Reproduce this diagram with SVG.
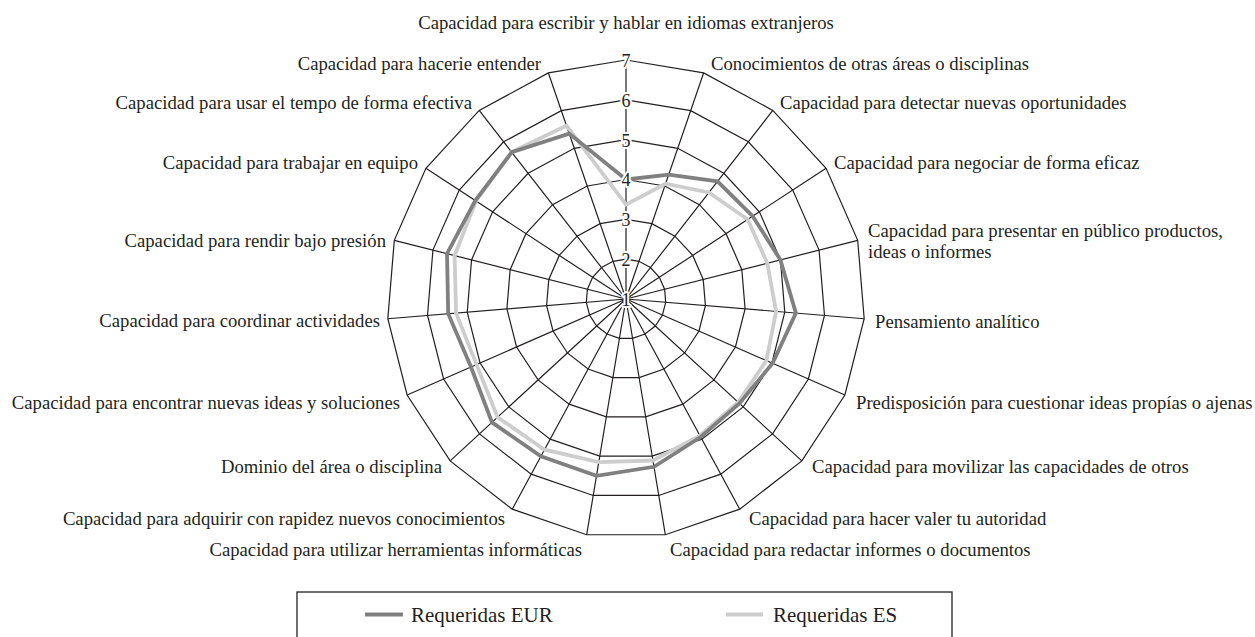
<svg xmlns="http://www.w3.org/2000/svg" width="1255" height="637" viewBox="0 0 1255 637">
<style>
.grid{fill:none;stroke:#231f20;stroke-width:1.2;stroke-linejoin:miter}
.lbl{font-family:"Liberation Serif","Times New Roman",serif;font-size:18.7px;fill:#231f20}
.end{text-anchor:end}
.num{font-family:"Liberation Serif","Times New Roman",serif;font-size:18px;fill:#231f20;text-anchor:middle;stroke:#fff;stroke-width:4;paint-order:stroke;stroke-linejoin:round}
.eur{fill:none;stroke:#808080;stroke-width:3.8;stroke-linejoin:miter}
.es{fill:none;stroke:#cdcdcd;stroke-width:3.8;stroke-linejoin:miter}
.leg{font-family:"Liberation Serif","Times New Roman",serif;font-size:21px;fill:#231f20}
</style>
<rect width="1255" height="637" fill="#fff"/>
<g id="grid" transform="translate(626,299)">
<polygon class="grid" points="0,-39.83 12.93,-37.67 24.46,-31.43 33.34,-21.78 38.61,-9.78 39.69,3.29 36.47,16 29.3,26.98 18.96,35.03 6.56,39.29 -6.56,39.29 -18.96,35.03 -29.3,26.98 -36.47,16 -39.69,3.29 -38.61,-9.78 -33.34,-21.78 -24.46,-31.43 -12.93,-37.67"/>
<polygon class="grid" points="0,-79.67 25.87,-75.35 48.93,-62.87 66.7,-43.58 77.23,-19.56 79.4,6.58 72.96,32 58.61,53.96 37.92,70.07 13.11,78.58 -13.11,78.58 -37.92,70.07 -58.61,53.96 -72.96,32 -79.4,6.58 -77.23,-19.56 -66.7,-43.58 -48.93,-62.87 -25.87,-75.35"/>
<polygon class="grid" points="0,-119.5 38.8,-113.03 73.4,-94.3 100.04,-65.36 115.84,-29.34 119.09,9.87 109.43,48 87.92,80.94 56.88,105.1 19.67,117.87 -19.67,117.87 -56.88,105.1 -87.92,80.94 -109.43,48 -119.09,9.87 -115.84,-29.34 -100.04,-65.36 -73.4,-94.3 -38.8,-113.03"/>
<polygon class="grid" points="0,-159.33 51.73,-150.7 97.86,-125.73 133.39,-87.15 154.45,-39.11 158.78,13.16 145.91,64 117.22,107.91 75.83,140.13 26.22,157.16 -26.22,157.16 -75.83,140.13 -117.22,107.91 -145.91,64 -158.78,13.16 -154.45,-39.11 -133.39,-87.15 -97.86,-125.73 -51.73,-150.7"/>
<polygon class="grid" points="0,-199.17 64.67,-188.38 122.33,-157.17 166.74,-108.94 193.07,-48.89 198.49,16.45 182.39,80.01 146.53,134.89 94.8,175.16 32.78,196.45 -32.78,196.45 -94.8,175.16 -146.53,134.89 -182.39,80.01 -198.49,16.45 -193.07,-48.89 -166.74,-108.94 -122.33,-157.17 -64.67,-188.38"/>
<polygon class="grid" points="0,-239 77.6,-226.05 146.8,-188.6 200.08,-130.72 231.69,-58.67 238.18,19.74 218.87,96.01 175.84,161.87 113.75,210.19 39.34,235.74 -39.34,235.74 -113.75,210.19 -175.84,161.87 -218.87,96.01 -238.18,19.74 -231.69,-58.67 -200.08,-130.72 -146.8,-188.6 -77.6,-226.05"/>
<path class="grid" d="M0,0V-239M0,0L77.6,-226.05M0,0L146.8,-188.6M0,0L200.08,-130.72M0,0L231.69,-58.67M0,0L238.18,19.74M0,0L218.87,96.01M0,0L175.84,161.87M0,0L113.75,210.19M0,0L39.34,235.74M0,0L-39.34,235.74M0,0L-113.75,210.19M0,0L-175.84,161.87M0,0L-218.87,96.01M0,0L-238.18,19.74M0,0L-231.69,-58.67M0,0L-200.08,-130.72M0,0L-146.8,-188.6M0,0L-77.6,-226.05"/>
</g>
<g id="series">
<polygon id="series-es" class="es" points="626,204.6 665.6,183.7 708.9,192.5 747.7,219.5 767.3,263.2 776.1,311.4 766.4,360.6 738.2,402.3 699.9,435.6 652.9,460.5 598.8,462.2 544.5,449.7 497.6,417.2 476.5,364.6 456.1,313.1 454.6,255.6 476,201 511.5,151.9 566.5,125.7"/>
<polygon id="series-eur" class="eur" points="626,179.5 668.7,174.7 717.5,181.4 752.7,216.2 780.4,259.9 795.9,313.1 772.6,363.3 739.4,403.4 700.7,437 654,466.8 596.5,475.8 540.9,456.2 492,422.4 471,367 448.2,313.7 447,253.7 475.3,200.5 511.8,152.2 569.2,133.6"/>
</g>
<g id="scale">
<text class="num" x="626" y="305.5">1</text>
<text class="num" x="626" y="265.5">2</text>
<text class="num" x="626" y="226">3</text>
<text class="num" x="626" y="186">4</text>
<text class="num" x="626" y="146.5">5</text>
<text class="num" x="626" y="106.5">6</text>
<text class="num" x="626" y="66.5">7</text>
</g>
<g id="labels">
<text class="lbl" x="626" y="29" text-anchor="middle">Capacidad para escribir y hablar en idiomas extranjeros</text>
<text class="lbl" x="711" y="70">Conocimientos de otras áreas o disciplinas</text>
<text class="lbl" x="780" y="109">Capacidad para detectar nuevas oportunidades</text>
<text class="lbl" x="834" y="169">Capacidad para negociar de forma eficaz</text>
<text class="lbl" x="868" y="237">Capacidad para presentar en público productos,</text>
<text class="lbl" x="868" y="258">ideas o informes</text>
<text class="lbl" x="875" y="328">Pensamiento analítico</text>
<text class="lbl" x="856" y="409">Predisposición para cuestionar ideas propías o ajenas</text>
<text class="lbl" x="812" y="473">Capacidad para movilizar las capacidades de otros</text>
<text class="lbl" x="749" y="525">Capacidad para hacer valer tu autoridad</text>
<text class="lbl" x="670" y="556">Capacidad para redactar informes o documentos</text>
<text class="lbl end" x="582" y="556">Capacidad para utilizar herramientas informáticas</text>
<text class="lbl end" x="505" y="525">Capacidad para adquirir con rapidez nuevos conocimientos</text>
<text class="lbl end" x="442" y="473">Dominio del área o disciplina</text>
<text class="lbl end" x="400" y="409">Capacidad para encontrar nuevas ideas y soluciones</text>
<text class="lbl end" x="380" y="327">Capacidad para coordinar actividades</text>
<text class="lbl end" x="386" y="247">Capacidad para rendir bajo presión</text>
<text class="lbl end" x="418" y="169">Capacidad para trabajar en equipo</text>
<text class="lbl end" x="472" y="109">Capacidad para usar el tempo de forma efectiva</text>
<text class="lbl end" x="541" y="70">Capacidad para hacerie entender</text>
</g>
<g id="legend">
<rect x="297" y="592" width="655" height="60" fill="none" stroke="#231f20" stroke-width="1.3"/>
<line x1="365" y1="614.5" x2="403" y2="614.5" stroke="#808080" stroke-width="4"/>
<text class="leg" x="411" y="622">Requeridas EUR</text>
<line x1="726" y1="614.5" x2="763" y2="614.5" stroke="#cdcdcd" stroke-width="4"/>
<text class="leg" x="773" y="622">Requeridas ES</text>
</g>
</svg>
